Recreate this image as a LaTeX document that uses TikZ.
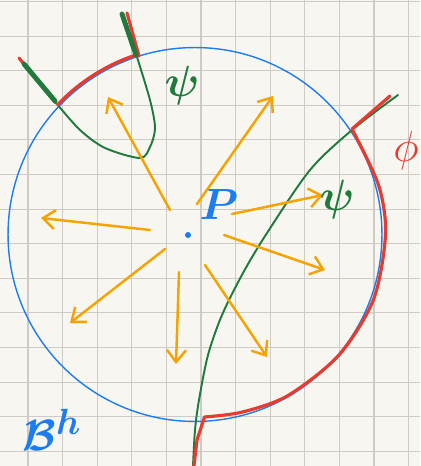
\documentclass[tikz,border=0pt]{standalone}
\usepackage{amsmath}
\usepackage{xcolor}
\usepackage{tikz}
\usetikzlibrary{arrows.meta}
\usetikzlibrary{calc}

\definecolor{paper}{HTML}{F8F6F1}
\definecolor{gridgray}{HTML}{CFCAC3}
\definecolor{penblue}{HTML}{1C7CF2}
\definecolor{pengreen}{HTML}{1F7A3C}
\definecolor{penred}{HTML}{E63B2E}
\definecolor{penorange}{HTML}{F5A300}

\begin{document}
\begin{tikzpicture}[
      x=0.02cm, y=-0.02cm,
      gridline/.style={draw=gridgray, line width=0.6pt},
      ball/.style={draw=penblue, line width=0.8pt},
      ray/.style={draw=penorange, line width=1.4pt, line cap=round,
                  line join=round, -{Straight Barb[length=2.4mm,width=3.8mm]}},
      greenthin/.style={draw=pengreen, line width=1.1pt, line cap=round},
      greenthick/.style={draw=pengreen, line width=2.8pt, line cap=round},
      redpen/.style={draw=penred, line width=1.8pt, line cap=round,
                     line join=round},
      lbl/.style={inner sep=0pt, font=\fontsize{23}{23}\selectfont},
      dot/.style={circle, fill=penblue, inner sep=0pt, minimum size=1.2mm}
    ]

    % paper and grid
    \useasboundingbox (0,0) rectangle (420,466);
    \fill[paper] (0,0) rectangle (420,466);
    \foreach \i in {0,...,11}
      \draw[gridline] (28+34.6*\i,0) -- (28+34.6*\i,466);
    \foreach \j in {0,...,13}
      \draw[gridline] (0,1.5+34.6*\j) -- (420,1.5+34.6*\j);

    % the ball B^h round P
    \coordinate (C) at (195,234.5);
    \draw[ball] (C) circle[radius=3.74cm];
    \node[dot] (P) at (188,235) {};

    % psi crossing the ball on the right
    \draw[greenthin] plot[smooth] coordinates {(398,95) (352,130) (310,170)
      (267,233) (243,273) (222,315) (208,355) (199,400) (195,430) (193,466)};

    % psi on the upper left
    \draw[greenthin] plot[smooth] coordinates {(57,104) (80,130) (105,148)
      (140,158) (150,147) (155,128) (150,100) (137,57)};

    % phi on the upper left
    \coordinate (a1) at (19,58);
    \coordinate (a2) at (56,103);
    \coordinate (a3) at (139,56);
    \coordinate (a4) at (127,13);
    \draw[redpen] (a1) -- (a2);
    \draw[redpen] (a3) -- (a4);
    \draw[redpen] ($(C)+(136.6:3.78cm)$) arc[start angle=136.6,
      end angle=107.5, radius=3.78cm];
    \draw[greenthick] (24,64) -- (55,101);
    \draw[greenthick] (122,14) -- (136,55);

    % phi on the right
    \coordinate (b1) at (390,96);
    \coordinate (b2) at (352,129);
    \coordinate (b3) at (197,440);
    \coordinate (b4) at (194,466);
    \draw[redpen] (b1) -- (b2) -- plot[smooth] coordinates {(352,129)
      (378.5,185) (385.5,234.5) (373.5,299.5) (339,355) (288,395.5)
      (242.5,412) (204.5,417)} -- (b3) -- (b4);

    % directions out of P
    \foreach \tx/\ty/\hx/\hy [count=\i] in {170/210/108/97, 150/230/41/218,
        197/204/273/96, 232/214/323/195, 224/235/325/270, 205/265/267/357,
        179/272/176/364, 165/249/70/323}{
      \coordinate (t\i) at (\tx,\ty);
      \coordinate (h\i) at (\hx,\hy);
      \draw[ray] (t\i) -- (h\i);
    }

    % labels
    \node[lbl, text=pengreen] (psiA) at (182,86) {$\boldsymbol{\psi}$};
    \node[lbl, text=pengreen] (psiB) at (337,200) {$\boldsymbol{\psi}$};
    \node[lbl, text=penred, font=\fontsize{26}{26}\selectfont]
      (phi) at (406,151) {$\phi$};
    \node[lbl, text=penblue, font=\fontsize{25}{25}\selectfont]
      (Plabel) at (219,205) {$\boldsymbol{P}$};
    \node[lbl, text=penblue, font=\fontsize{28}{28}\selectfont]
      (ball) at (52,430) {$\boldsymbol{\mathcal{B}}^{\boldsymbol{h}}$};

  \end{tikzpicture}
\end{document}
